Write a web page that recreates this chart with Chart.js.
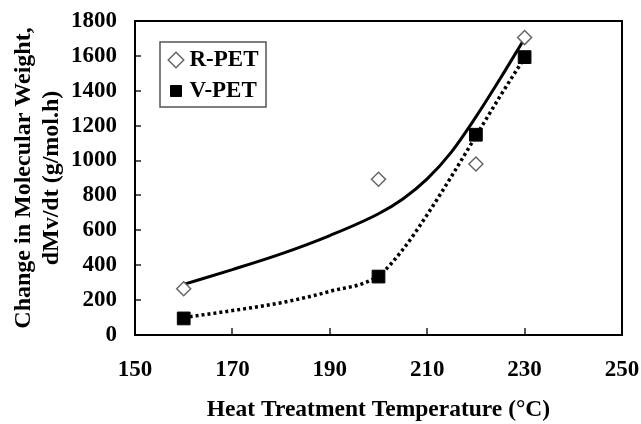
<!DOCTYPE html>
<html lang="en">
<head>
  <meta charset="UTF-8">
  <title>Change in Molecular Weight vs Heat Treatment Temperature</title>
  <script src="https://cdn.jsdelivr.net/npm/chart.js"></script>
  <style>
    html, body { margin: 0; padding: 0; background: #fff; }
  </style>
</head>
<body>
  <canvas id="mwChart" width="641" height="424"></canvas>

  <script>
    // Measured points
    const rTemps = [160, 200, 220, 230];
    const rValues = [265, 893, 980, 1705];
    const vTemps = [160, 200, 220, 230];
    const vValues = [95, 335, 1148, 1593];

    // Trend curves
    const rTrendTemps = [160, 170, 180, 190, 200, 205, 210, 215, 220, 225, 230];
    const rTrendValues = [290, 375, 465, 570, 695, 780, 895, 1050, 1250, 1470, 1700];
    const vTrendTemps = [160, 170, 180, 190, 200, 205, 210, 215, 220, 225, 230];
    const vTrendValues = [100, 140, 185, 250, 340, 490, 690, 910, 1140, 1370, 1590];

    // Axis ticks
    const xTicks = [150, 170, 190, 210, 230, 250];
    const yTicks = [0, 200, 400, 600, 800, 1000, 1200, 1400, 1600, 1800];

    const toPoints = (xs, ys) => xs.map((x, i) => ({ x: x, y: ys[i] }));

    Chart.defaults.font.family = '"Liberation Serif", "Times New Roman", serif';
    Chart.defaults.font.weight = 'bold';
    Chart.defaults.font.size = 23;
    Chart.defaults.color = '#000';

    // frame, inward tick marks, legend placement + box
    const framePlugin = {
      id: 'framePlugin',
      beforeDraw(chart) {
        const lg = chart.legend, ca = chart.chartArea;
        lg.left = ca.left + 31;
        lg.top = ca.top + 19.5;
        lg.right = lg.left + lg.width;
        lg.bottom = ca.bottom;
      },
      afterDraw(chart) {
        const { ctx, chartArea: ca, scales: { x, y } } = chart;
        ctx.save();
        ctx.strokeStyle = '#222';
        ctx.lineWidth = 1.5;
        ctx.beginPath();
        y.ticks.forEach(t => {
          if (t.value > y.min && t.value < y.max) {
            const py = Math.round(y.getPixelForValue(t.value));
            ctx.moveTo(ca.left, py);
            ctx.lineTo(ca.left + 6, py);
          }
        });
        x.ticks.forEach(t => {
          if (t.value > x.min && t.value < x.max) {
            const px = Math.round(x.getPixelForValue(t.value));
            ctx.moveTo(px, ca.bottom);
            ctx.lineTo(px, ca.bottom - 7);
          }
        });
        ctx.stroke();

        ctx.strokeStyle = '#000';
        ctx.lineWidth = 2;
        ctx.strokeRect(ca.left, ca.top, ca.right - ca.left, ca.bottom - ca.top);

        const lg = chart.legend;
        ctx.strokeStyle = '#555';
        ctx.lineWidth = 1.5;
        ctx.strokeRect(lg.left - 6, lg.top + 1.5, 106, 65);
        ctx.restore();
      }
    };

    const ctx = document.getElementById('mwChart').getContext('2d');
    const chart = new Chart(ctx, {
      type: 'scatter',
      data: {
        datasets: [
          {
            label: 'R-PET',
            data: toPoints(rTemps, rValues),
            pointStyle: 'rectRot',
            pointRadius: 7,
            backgroundColor: '#fff',
            borderColor: '#666',
            borderWidth: 1.5
          },
          {
            label: 'V-PET',
            data: toPoints(vTemps, vValues),
            pointStyle: 'rect',
            pointRadius: 9,
            backgroundColor: '#000',
            borderColor: '#000',
            borderWidth: 1
          },
          {
            label: 'R-PET trend',
            type: 'line',
            data: toPoints(rTrendTemps, rTrendValues),
            borderColor: '#000',
            borderWidth: 3,
            pointRadius: 0,
            fill: false,
            cubicInterpolationMode: 'monotone'
          },
          {
            label: 'V-PET trend',
            type: 'line',
            data: toPoints(vTrendTemps, vTrendValues),
            borderColor: '#000',
            borderWidth: 3.5,
            borderDash: [3, 3],
            pointRadius: 0,
            fill: false,
            cubicInterpolationMode: 'monotone'
          }
        ]
      },
      options: {
        responsive: false,
        animation: false,
        layout: { padding: { top: 21, right: 19, left: 0, bottom: 0 } },
        scales: {
          x: {
            type: 'linear',
            min: 150,
            max: 250,
            afterBuildTicks: s => { s.ticks = xTicks.map(v => ({ value: v })); },
            afterFit: s => { s.height = 89; s.paddingLeft = 0; s.paddingRight = 0; },
            grid: { display: false, drawTicks: false },
            border: { display: false },
            ticks: { padding: 21, callback: v => String(v) },
            title: {
              display: true,
              text: 'Heat Treatment Temperature (°C)',
              font: { size: 23.5 },
              padding: { top: 0, bottom: 0 }
            }
          },
          y: {
            min: 0,
            max: 1800,
            afterBuildTicks: s => { s.ticks = yTicks.map(v => ({ value: v })); },
            afterFit: s => { s.width = 135; s.paddingTop = 0; s.paddingBottom = 0; },
            grid: { display: false, drawTicks: false },
            border: { display: false },
            ticks: { padding: 18, callback: v => String(v) },
            title: {
              display: true,
              text: ['Change in Molecular Weight,', 'dMv/dt (g/mol.h)'],
              font: { size: 24 },
              padding: { top: 9, bottom: 0 }
            }
          }
        },
        plugins: {
          tooltip: { enabled: false },
          legend: {
            position: 'chartArea',
            align: 'start',
            labels: {
              filter: item => item.datasetIndex < 2,
              usePointStyle: true,
              boxWidth: 4,
              boxHeight: 11,
              padding: 8,
              font: { size: 23, weight: 'bold' },
              color: '#000'
            }
          }
        }
      },
      plugins: [framePlugin]
    });
  </script>
</body>
</html>
